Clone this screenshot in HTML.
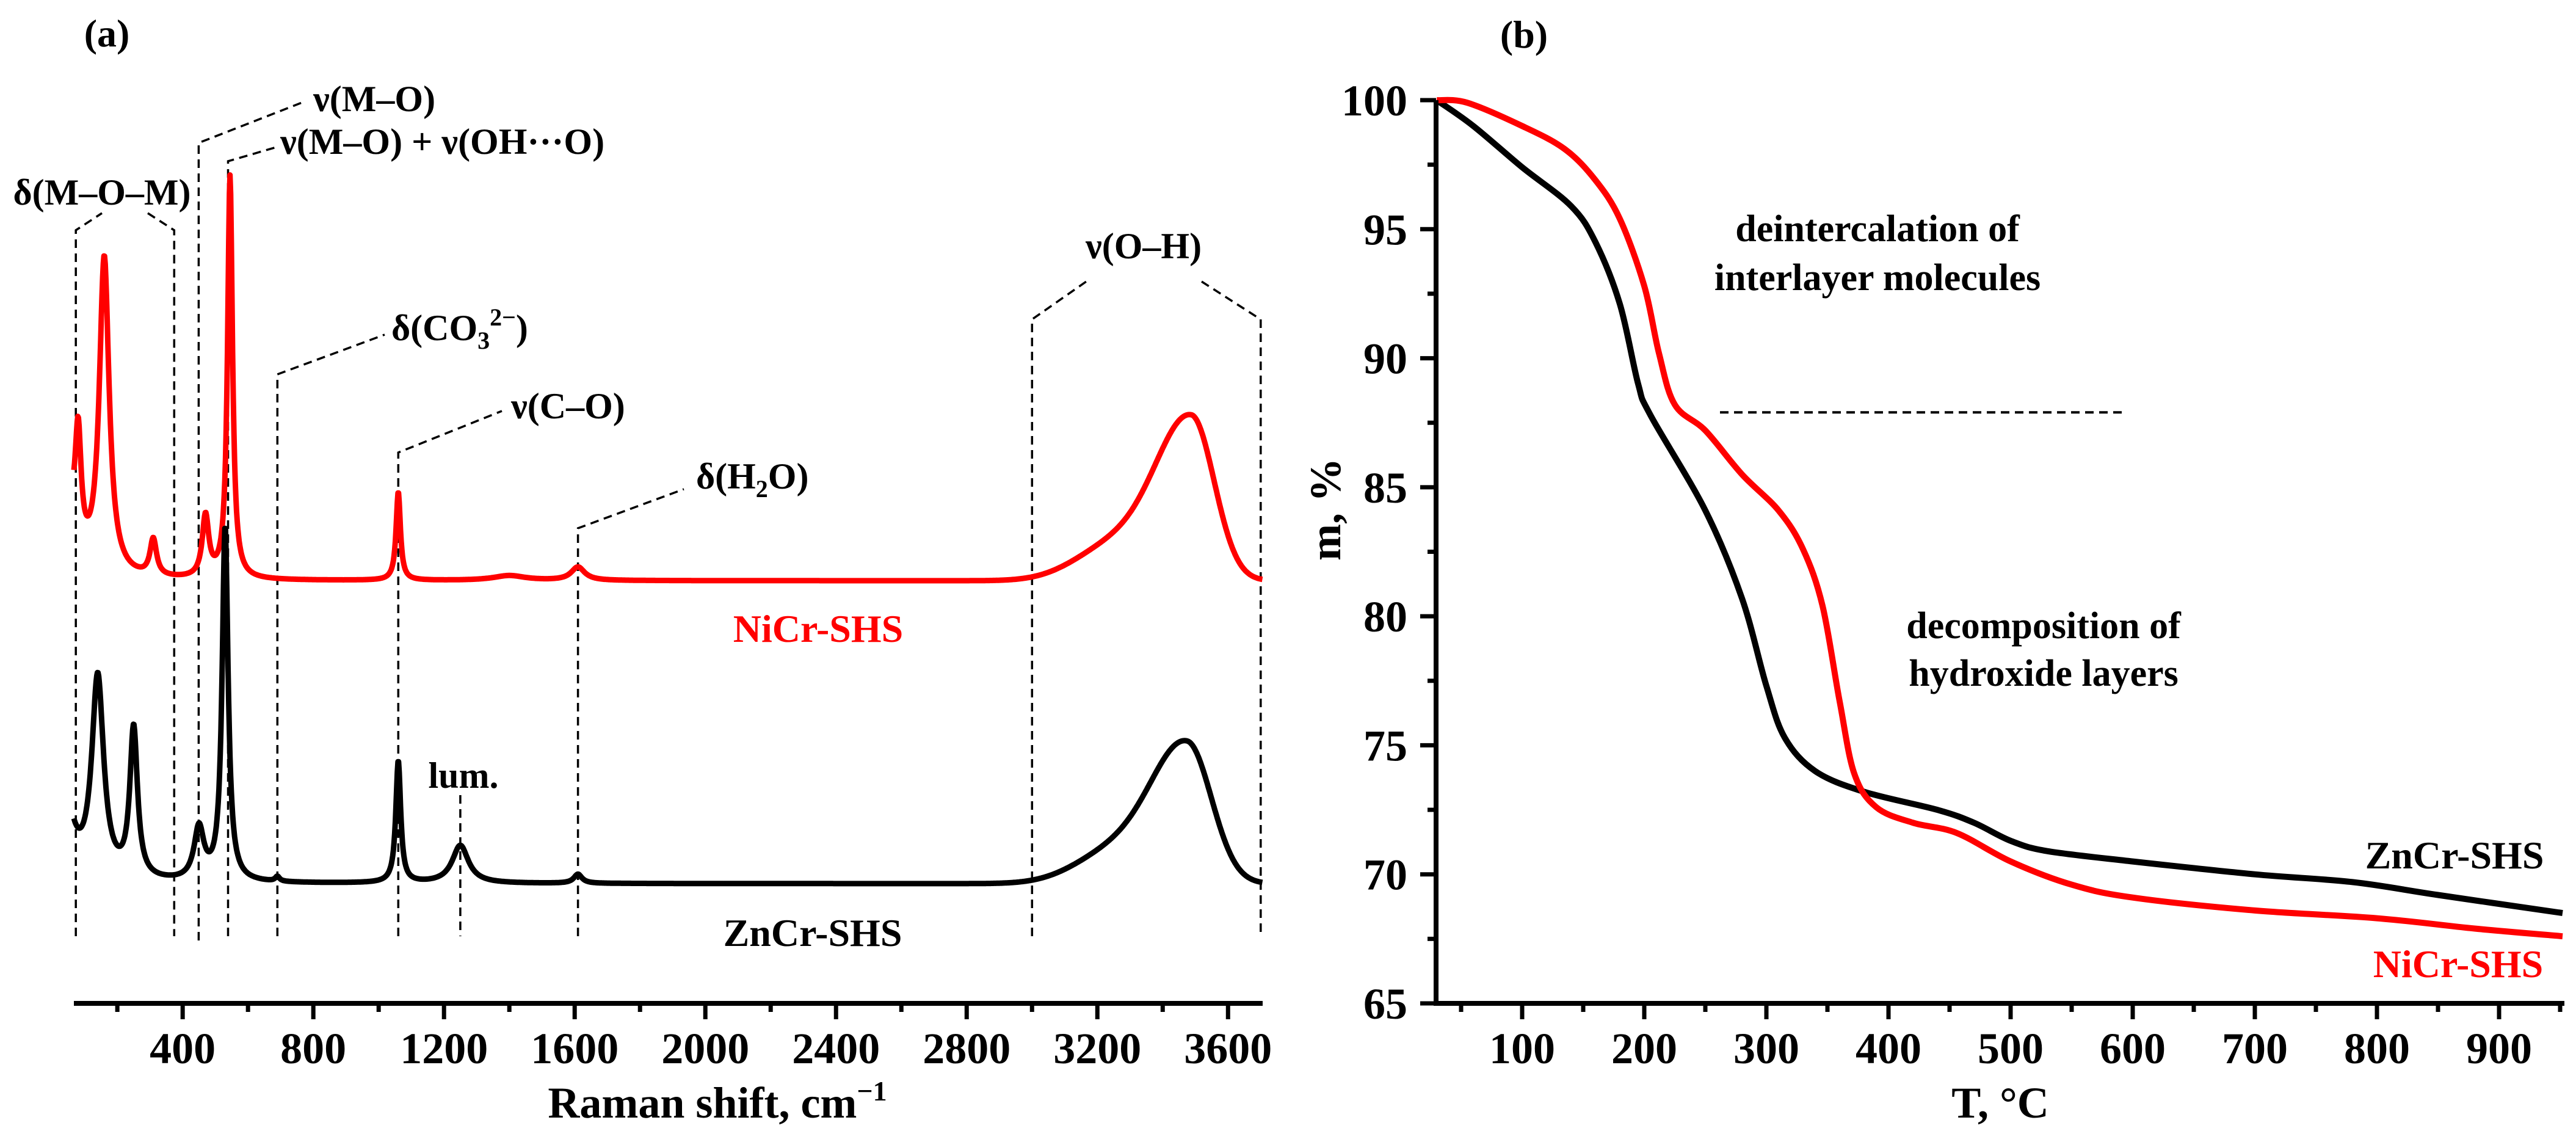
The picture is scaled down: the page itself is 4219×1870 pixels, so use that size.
<!DOCTYPE html>
<html><head><meta charset="utf-8">
<style>
html,body{margin:0;padding:0;background:#fff;}
svg{display:block;}
text{font-family:"Liberation Serif","DejaVu Serif",serif;font-weight:bold;}
</style></head>
<body>
<svg id="fig" xmlns="http://www.w3.org/2000/svg" width="4219" height="1870" viewBox="0 0 4219 1870">
  <rect x="0" y="0" width="4219" height="1870" fill="#fff"/>
  <g id="panelA"></g>
  <g id="panelB"></g>
</svg>
<script>
// ---------- Panel (a) Raman data ----------
const ramanXTicks = [400, 800, 1200, 1600, 2000, 2400, 2800, 3200, 3600];
const ramanMinorTicks = [200, 600, 1000, 1400, 1800, 2200, 2600, 3000, 3400];
// ZnCr-SHS peaks (Lorentzian): centre cm-1, height, half-width
const znPeakCenters = [40, 140, 250, 450, 530, 690, 1060, 1250, 1610];
const znPeakHeights = [14, 33, 24.5, 8.5, 58, 0.8, 20, 6.2, 1.5];
const znPeakWidths  = [30, 22, 14, 18, 11, 8, 9, 30, 15];
const znBaseline = 0;
const znOH = [3475, 22.5, 110, 75];       // centre, height, sigma-left, sigma-right
const znShoulder = [3250, 5, 120];
// NiCr-SHS peaks
const niPeakCenters = [40, 80, 160, 310, 470, 545, 1060, 1400, 1610];
const niPeakHeights = [15, 19, 52, 6, 10, 66, 14.5, 0.8, 2.2];
const niPeakWidths  = [30, 11, 18, 12, 12, 9, 8, 60, 25];
const niBaseline = 49.6;
const niOH = [3488, 26.4, 110, 70];
const niShoulder = [3250, 5.5, 120];

// ---------- Panel (b) TGA data ----------
const tgaXTicks = [100, 200, 300, 400, 500, 600, 700, 800, 900];
const tgaYTicks = [65, 70, 75, 80, 85, 90, 95, 100];
const znT = [30, 60, 100, 140, 160, 180, 195, 205, 250, 280, 300, 315, 340, 380, 440, 470, 500, 530, 600, 700, 780, 850, 952];
const znM = [100, 99.0, 97.4, 95.9, 94.5, 92.1, 89.0, 87.8, 84.1, 80.7, 77.3, 75.3, 74.0, 73.2, 72.5, 72.0, 71.3, 70.9, 70.5, 70.0, 69.7, 69.2, 68.5];
const niT = [30, 55, 100, 135, 160, 180, 200, 212, 225, 250, 280, 310, 330, 346, 360, 372, 390, 420, 456, 500, 550, 600, 700, 800, 880, 952];
const niM = [100, 99.9, 99.0, 98.1, 96.9, 95.4, 92.8, 90.2, 88.2, 87.2, 85.5, 84.1, 82.6, 80.4, 76.7, 73.9, 72.6, 72.0, 71.6, 70.5, 69.6, 69.1, 68.6, 68.3, 67.9, 67.6];

const NS = "http://www.w3.org/2000/svg";
function mk(tag, attrs, parent, txt) {
  const e = document.createElementNS(NS, tag);
  for (const k in attrs) e.setAttribute(k, attrs[k]);
  if (txt !== undefined) e.textContent = txt;
  parent.appendChild(e);
  return e;
}

// ===== Panel A =====
const A = document.getElementById('panelA');
const axA = {x0: 121, x1: 2068, y: 1643, xmin: 67, xmax: 3706};
function xA(v) { return axA.x0 + (v - axA.xmin) * (axA.x1 - axA.x0) / (axA.xmax - axA.xmin); }
function yA(v) { return 1447 - v * 10; }

function spectrum(cs, hs, ws, base, oh, sh, x) {
  let s = base;
  for (let i = 0; i < cs.length; i++) { const d = (x - cs[i]) / ws[i]; s += hs[i] / (1 + d * d); }
  const sig = x < oh[0] ? oh[2] : oh[3];
  s += oh[1] * Math.exp(-Math.pow(x - oh[0], 2) / (2 * sig * sig));
  s += sh[1] * Math.exp(-Math.pow(x - sh[0], 2) / (2 * sh[2] * sh[2]));
  return s;
}
function specPath(cs, hs, ws, base, oh, sh) {
  let d = '';
  for (let x = axA.xmin; x <= axA.xmax; x += 2) {
    d += (d ? 'L' : 'M') + xA(x).toFixed(1) + ',' + yA(spectrum(cs, hs, ws, base, oh, sh, x)).toFixed(1);
  }
  return d;
}

const dashStyle = {fill: 'none', stroke: '#000', 'stroke-width': 3.5, 'stroke-dasharray': '14,9'};
const annLines = [
  ['dash-mom', [[xA(73), 1533], [xA(73), 377], [167, 349]]],
  ['dash-mom-right', [[242, 349], [xA(374), 377], [xA(374), 1533]]],
  ['dash-mo', [[xA(449), 1540], [xA(449), 234], [497, 167]]],
  ['dash-mo-oh', [[xA(539), 1533], [xA(539), 264], [456, 240]]],
  ['dash-co3', [[xA(690), 1533], [xA(690), 613], [630, 548]]],
  ['dash-co', [[xA(1060), 1533], [xA(1060), 741], [822, 673]]],
  ['dash-h2o', [[xA(1610), 1533], [xA(1610), 865], [1120, 801]]],
  ['dash-oh-left', [[xA(3000), 1533], [xA(3000), 523], [1779, 461]]],
  ['dash-oh-right', [[1968, 461], [xA(3700), 523], [xA(3700), 1533]]],
  ['dash-lum', [[xA(1250), 1302], [xA(1250), 1533]]]
];
for (const [nm, pts] of annLines) {
  const p = mk('polyline', Object.assign({points: pts.map(p => p[0].toFixed(1) + ',' + p[1]).join(' ')}, dashStyle), A);
  
  
}

const niPath = mk('path', {d: specPath(niPeakCenters, niPeakHeights, niPeakWidths, niBaseline, niOH, niShoulder), fill: 'none', stroke: '#ff0000', 'stroke-width': 9, 'stroke-linejoin': 'round'}, A);


const znPath = mk('path', {d: specPath(znPeakCenters, znPeakHeights, znPeakWidths, znBaseline, znOH, znShoulder), fill: 'none', stroke: '#000', 'stroke-width': 9, 'stroke-linejoin': 'round'}, A);



const axl = mk('line', {x1: axA.x0, y1: axA.y, x2: axA.x1, y2: axA.y, stroke: '#000', 'stroke-width': 8}, A);


for (const t of ramanXTicks) {
  const tk = mk('line', {x1: xA(t), y1: axA.y, x2: xA(t), y2: axA.y + 26, stroke: '#000', 'stroke-width': 7}, A);
  
  
  const lb = mk('text', {x: xA(t), y: 1741, 'font-size': 72, 'text-anchor': 'middle'}, A, String(t));
  
  
}
for (const t of ramanMinorTicks) {
  const tk = mk('line', {x1: xA(t), y1: axA.y, x2: xA(t), y2: axA.y + 14, stroke: '#000', 'stroke-width': 7}, A);
  
  
}
</script>
<script>
(function(){
const A = document.getElementById('panelA');
function t(nm, x, y, size, anchor, html, fill) {
  const e = document.createElementNS("http://www.w3.org/2000/svg", 'text');
  e.setAttribute('x', x); e.setAttribute('y', y);
  e.setAttribute('font-size', size); e.setAttribute('text-anchor', anchor);
  e.setAttribute('fill', fill || '#000');
  e.innerHTML = html;
  
  
  A.appendChild(e);
}
t('panel-a-label', 175, 76, 64, 'middle', '(a)');
t('label-delta-mom', 167, 335, 60, 'middle', 'δ(M–O–M)');
t('label-nu-mo', 513, 182, 60, 'start', 'ν(M–O)');
t('label-nu-mo-oh', 459, 252, 60, 'start', 'ν(M–O) + ν(OH···O)');
t('label-delta-co3', 641, 557, 60, 'start', 'δ(CO<tspan font-size="40" dy="14">3</tspan><tspan font-size="40" dy="-38">2−</tspan><tspan dy="24">)</tspan>');
t('label-nu-co', 837, 685, 60, 'start', 'ν(C–O)');
t('label-delta-h2o', 1140, 800, 60, 'start', 'δ(H<tspan font-size="40" dy="14">2</tspan><tspan dy="-14">O)</tspan>');
t('label-nu-oh', 1873, 423, 60, 'middle', 'ν(O–H)');
t('label-lum', 759, 1290, 60, 'middle', 'lum.');
t('legend-nicr', 1340, 1051, 64, 'middle', 'NiCr-SHS', '#ff0000');
t('legend-zncr', 1331, 1549, 64, 'middle', 'ZnCr-SHS');
t('raman-x-axis-title', 1175, 1830, 72, 'middle', 'Raman shift, cm<tspan font-size="46" dy="-28">−1</tspan>');
})();
</script>
<script>
(function(){
const NS = "http://www.w3.org/2000/svg";
const B = document.getElementById('panelB');
function mk(tag, attrs, parent, txt) {
  const e = document.createElementNS(NS, tag);
  for (const k in attrs) e.setAttribute(k, attrs[k]);
  if (txt !== undefined) e.textContent = txt;
  parent.appendChild(e);
  return e;
}
const ax = {x0: 2352, x1: 4200, y0: 1643, yTop: 164, mmin: 65, mmax: 100};
function xB(v) { return 2493 + (v - 100) * 2.0; }
function yB(v) { return ax.y0 + (v - ax.mmin) * (ax.yTop - ax.y0) / (ax.mmax - ax.mmin); }

const dh = mk('line', {x1: xB(262), y1: yB(87.9), x2: xB(594), y2: yB(87.9), stroke: '#000', 'stroke-width': 4, 'stroke-dasharray': '14,9'}, B);



function smoothPath(T, M) {
  const P = T.map((t, i) => [xB(t), yB(M[i])]);
  let d = 'M' + P[0][0].toFixed(1) + ',' + P[0][1].toFixed(1);
  for (let i = 0; i < P.length - 1; i++) {
    const p0 = P[Math.max(0, i - 1)], p1 = P[i], p2 = P[i + 1], p3 = P[Math.min(P.length - 1, i + 2)];
    const c1 = [p1[0] + (p2[0] - p0[0]) / 6, p1[1] + (p2[1] - p0[1]) / 6];
    const c2 = [p2[0] - (p3[0] - p1[0]) / 6, p2[1] - (p3[1] - p1[1]) / 6];
    d += 'C' + c1[0].toFixed(1) + ',' + c1[1].toFixed(1) + ' ' + c2[0].toFixed(1) + ',' + c2[1].toFixed(1) + ' ' + p2[0].toFixed(1) + ',' + p2[1].toFixed(1);
  }
  return d;
}
const zn = mk('path', {d: smoothPath(znT, znM), fill: 'none', stroke: '#000', 'stroke-width': 10, 'stroke-linejoin': 'round'}, B);


const ni = mk('path', {d: smoothPath(niT, niM), fill: 'none', stroke: '#ff0000', 'stroke-width': 10, 'stroke-linejoin': 'round'}, B);



const xl = mk('line', {x1: ax.x0 - 4, y1: ax.y0, x2: ax.x1, y2: ax.y0, stroke: '#000', 'stroke-width': 8}, B);


const yl = mk('line', {x1: ax.x0, y1: ax.yTop, x2: ax.x0, y2: ax.y0 + 4, stroke: '#000', 'stroke-width': 8}, B);



for (const t of tgaXTicks) {
  const tk = mk('line', {x1: xB(t), y1: ax.y0, x2: xB(t), y2: ax.y0 + 26, stroke: '#000', 'stroke-width': 7}, B);
  
  
  const lb = mk('text', {x: xB(t), y: 1741, 'font-size': 72, 'text-anchor': 'middle'}, B, String(t));
  
  
  const mn = mk('line', {x1: xB(t - 50), y1: ax.y0, x2: xB(t - 50), y2: ax.y0 + 14, stroke: '#000', 'stroke-width': 7}, B);
  
  
}
const lastMinor = mk('line', {x1: xB(950), y1: ax.y0, x2: xB(950), y2: ax.y0 + 14, stroke: '#000', 'stroke-width': 7}, B);


for (const v of tgaYTicks) {
  const tk = mk('line', {x1: ax.x0, y1: yB(v), x2: ax.x0 - 26, y2: yB(v), stroke: '#000', 'stroke-width': 7}, B);
  
  
  const lb = mk('text', {x: 2305, y: yB(v) + 25, 'font-size': 72, 'text-anchor': 'end'}, B, String(v));
  
  
  if (v < 100) {
    const mn = mk('line', {x1: ax.x0, y1: yB(v + 2.5), x2: ax.x0 - 14, y2: yB(v + 2.5), stroke: '#000', 'stroke-width': 7}, B);
    
    
  }
}
function t(nm, x, y, size, anchor, txt, fill, extra) {
  const e = mk('text', Object.assign({x: x, y: y, 'font-size': size, 'text-anchor': anchor, fill: fill || '#000'}, extra || {}), B, txt);
  
  
}
t('panel-b-label', 2496, 78, 64, 'middle', '(b)');
t('annotation-deintercalation-1', 3075, 395, 62, 'middle', 'deintercalation of');
t('annotation-deintercalation-2', 3075, 475, 62, 'middle', 'interlayer molecules');
t('annotation-decomposition-1', 3347, 1045, 62, 'middle', 'decomposition of');
t('annotation-decomposition-2', 3347, 1123, 62, 'middle', 'hydroxide layers');
t('legend-zncr-tga', 4020, 1422, 64, 'middle', 'ZnCr-SHS');
t('legend-nicr-tga', 4026, 1600, 64, 'middle', 'NiCr-SHS', '#ff0000');
t('tga-x-axis-title', 3276, 1830, 72, 'middle', 'T, °C');
t('tga-y-axis-title', 2195, 834, 72, 'middle', 'm, %', '#000', {transform: 'rotate(-90 2195 834)'});
})();
</script>
</body></html>
